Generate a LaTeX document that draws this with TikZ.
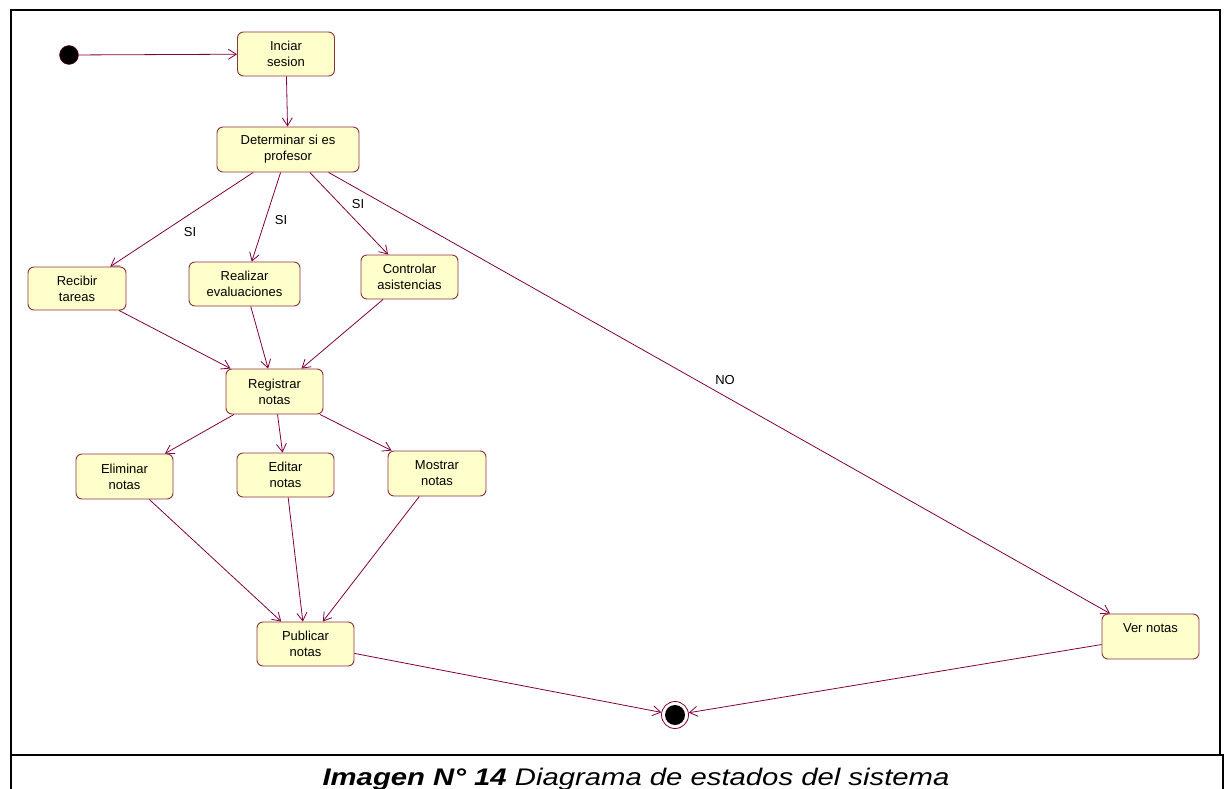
\documentclass[tikz,border=0pt]{standalone}
\usepackage{fontspec}
\setmainfont{Liberation Sans}
\usetikzlibrary{arrows.meta}
\definecolor{linecol}{RGB}{128,0,64}
\definecolor{boxborder}{RGB}{140,50,60}
\definecolor{boxfill}{RGB}{255,255,204}
\begin{document}
\begin{tikzpicture}[x=1pt,y=-1pt,
  state/.style={draw=boxborder, fill=boxfill, rounded corners=6pt, line width=0.9pt,
    minimum width=97pt, minimum height=44pt, align=center, inner sep=2pt,
    font=\fontsize{13}{16}\selectfont},
  tr/.style={draw=linecol, line width=0.8pt, -{Straight Barb[length=8pt,width=10pt]}},
  lbl/.style={font=\fontsize{13}{16}\selectfont, inner sep=0pt},
  frame/.style={line width=1.4pt, black}]
\useasboundingbox (0,0) rectangle (1228,789);
% frames
\draw[frame] (11,755) -- (11,10) -- (1220,10) -- (1220,755);
\draw[frame] (11,789) -- (11,755) -- (1223,755) -- (1223,789);
% nodes
\node[circle, fill=black, draw=linecol, minimum size=19pt, inner sep=0pt] (start) at (69,55) {};
\node[state] (ini) at (286,54) {Inciar\\sesion};
\node[state, minimum width=142pt, minimum height=45pt] (det) at (288,149.5) {Determinar si es\\profesor};
\node[state, minimum width=98pt, minimum height=43pt] (rec) at (77,288.5) {Recibir\\tareas};
\node[state, minimum width=111pt] (rea) at (244.5,284) {Realizar\\evaluaciones};
\node[state] (con) at (409.5,277) {Controlar\\asistencias};
\node[state, minimum height=45pt] (reg) at (274.5,391.5) {Registrar\\notas};
\node[state, minimum height=45pt] (eli) at (124.5,476.5) {Eliminar\\notas};
\node[state] (edi) at (285.5,475) {Editar\\notas};
\node[state, minimum width=98pt, minimum height=45pt] (mos) at (437,473.5) {Mostrar\\notas};
\node[state] (pub) at (305.5,644) {Publicar\\notas};
\node[state, minimum height=45pt] (ver) at (1150.5,636.5) {Ver notas\\\mbox{}};
\node[circle, draw=linecol, fill=white, line width=0.8pt, minimum size=27pt, inner sep=0pt] (end) at (675,715) {};
\node[circle, fill=black, minimum size=20pt, inner sep=0pt] (endin) at (675,715) {};
% transitions
\draw[tr] (start) -- (ini);
\draw[tr] (ini) -- (det);
\draw[tr] (det) -- (rec);
\draw[tr] (det) -- (rea);
\draw[tr] (det) -- (con);
\draw[tr] (det) -- (ver);
\draw[tr] (rec) -- (reg);
\draw[tr] (rea) -- (reg);
\draw[tr] (con) -- (reg);
\draw[tr] (reg) -- (eli);
\draw[tr] (reg) -- (edi);
\draw[tr] (reg) -- (mos);
\draw[tr] (eli) -- (pub);
\draw[tr] (edi) -- (pub);
\draw[tr] (mos) -- (pub);
\draw[tr] (pub) -- (end);
\draw[tr] (ver) -- (end);
% labels
\node[lbl] (si1) at (190,232) {SI};
\node[lbl] (si2) at (281,220) {SI};
\node[lbl] (si3) at (358,204) {SI};
\node[lbl] (no) at (725,380) {NO};
% caption
\node[anchor=base, xscale=1.22, inner sep=0pt, font=\fontsize{24}{28}\selectfont] (cap) at (636,785)
  {\textbf{\textit{Imagen N° 14}} \textit{Diagrama de estados del sistema}};
\end{tikzpicture}
\end{document}
